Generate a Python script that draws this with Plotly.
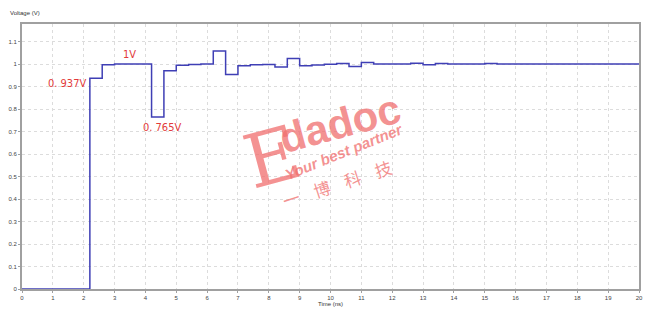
import plotly.graph_objects as go

# step start times (ns) and voltage levels (V)
t_steps = [0, 2.2, 2.6, 3.0, 3.4, 3.8, 4.2, 4.6, 5.0, 5.4, 5.8, 6.2, 6.6, 7.0, 7.4, 7.8,
           8.2, 8.6, 9.0, 9.4, 9.8, 10.2, 10.6, 11.0, 11.4, 11.8, 12.2, 12.6, 13.0,
           13.4, 13.8, 14.2, 14.6, 15.0, 15.4, 20.0]
v_steps = [0, 0.937, 0.997, 1.0, 1.0, 1.0, 0.765, 0.970, 0.995, 0.998, 1.0, 1.058, 0.953,
           0.992, 0.997, 0.998, 0.987, 1.025, 0.992, 0.996, 0.999, 1.002, 0.989, 1.007,
           1.0, 1.0, 1.0, 1.004, 0.997, 1.002, 1.0, 1.0, 1.0, 1.002, 1.0, 1.0]

x_ticks = list(range(0, 21))
y_ticks = [0, 0.1, 0.2, 0.3, 0.4, 0.5, 0.6, 0.7, 0.8, 0.9, 1.0, 1.1]
y_tick_text = ["0", "0.1", "0.2", "0.3", "0.4", "0.5", "0.6", "0.7", "0.8", "0.9", "1", "1.1"]

labels = [(2.2, 0.937, "0. 937V"), (3.5, 1.0, "1V"), (4.4, 0.765, "0. 765V")]

fig = go.Figure()
fig.add_trace(go.Scatter(x=t_steps, y=v_steps, mode="lines", line_shape="hv",
                         line=dict(color="#3f3fb5", width=1.5), showlegend=False))

red = "#e23a3a"
lab_font = dict(size=11, color=red, family="DejaVu Sans Condensed")
fig.add_annotation(x=labels[0][0], y=labels[0][1], text=labels[0][2], showarrow=False,
                   xanchor="right", yanchor="middle", xshift=-2, yshift=-5, font=lab_font)
fig.add_annotation(x=labels[1][0], y=labels[1][1], text=labels[1][2], showarrow=False,
                   xanchor="center", yanchor="bottom", yshift=1, font=lab_font)
fig.add_annotation(x=labels[2][0], y=labels[2][1], text=labels[2][2], showarrow=False,
                   xanchor="center", yanchor="top", yshift=-2, xshift=4, font=lab_font)

# watermark
pink = "rgba(240,110,110,0.75)"
fig.add_annotation(x=0.405, y=0.50, xref="paper", yref="paper", text="E", showarrow=False,
                   textangle=-15, font=dict(size=74, color=pink, family="DejaVu Serif"))
fig.add_annotation(x=0.515, y=0.625, xref="paper", yref="paper", text="<b>dadoc</b>", showarrow=False,
                   textangle=-15, font=dict(size=42, color=pink, family="Liberation Sans"))
fig.add_annotation(x=0.522, y=0.52, xref="paper", yref="paper", text="<b><i>Your best partner</i></b>",
                   showarrow=False, textangle=-22,
                   font=dict(size=15, color=pink, family="Liberation Sans"))
fig.add_annotation(x=0.51, y=0.40, xref="paper", yref="paper", text="一    博    科    技",
                   showarrow=False, textangle=-18,
                   font=dict(size=17, color=pink, family="Noto Sans CJK SC"))

fig.add_annotation(x=0, y=1, xref="paper", yref="paper", text="Voltage (V)", showarrow=False,
                   xanchor="left", yanchor="bottom", xshift=-14, yshift=6,
                   font=dict(size=6, color="#333", family="Liberation Sans"))

fig.update_layout(
    width=660, height=314,
    margin=dict(l=22, r=21, t=24, b=25, autoexpand=False),
    plot_bgcolor="white", paper_bgcolor="white",
    xaxis=dict(range=[0, 20], tickvals=x_ticks, showgrid=True, gridcolor="#dcdcdc",
               griddash="dot", gridwidth=1, zeroline=False, showline=True, automargin=False,
               linecolor="#a0a0a0", linewidth=2, mirror=True, ticks="outside",
               ticklen=2, tickcolor="#a0a0a0",
               tickfont=dict(size=6, color="#444", family="Liberation Sans"),
               title=dict(text="Time (ns)", font=dict(size=6, color="#333", family="Liberation Sans"),
                          standoff=2)),
    yaxis=dict(range=[0, 1.178], tickvals=y_ticks, ticktext=y_tick_text, showgrid=True,
               gridcolor="#dcdcdc", griddash="dot", gridwidth=1, zeroline=False, automargin=False,
               showline=True, linecolor="#a0a0a0", linewidth=2, mirror=True,
               ticks="outside", ticklen=2, tickcolor="#a0a0a0",
               tickfont=dict(size=6, color="#444", family="Liberation Sans")),
)

fig.write_html("out.html")
